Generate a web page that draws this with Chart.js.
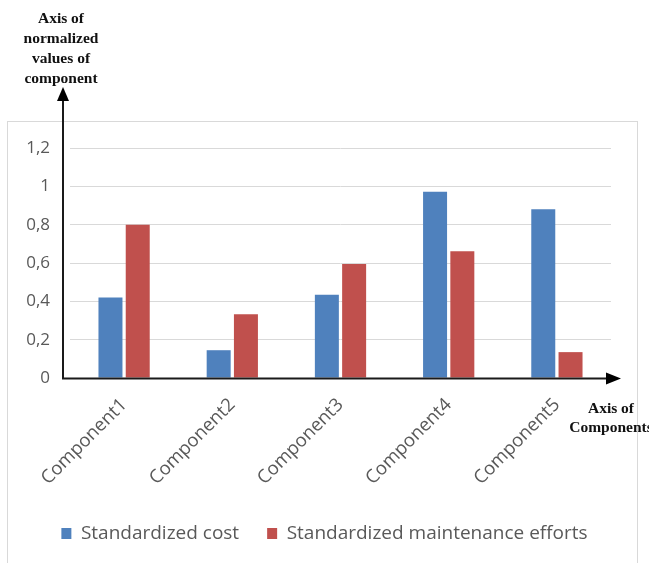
<!DOCTYPE html>
<html>
<head>
<meta charset="utf-8">
<script src="https://cdn.jsdelivr.net/npm/chart.js@4"></script>
<style>
  html, body { margin: 0; padding: 0; background: #fff; overflow: hidden; }
  #wrap { position: relative; width: 649px; height: 563px; overflow: hidden; }
  #frame { position: absolute; left: 7px; top: 121px; width: 629px; height: 460px; border: 1px solid #d9d9d9; }
  #myChart { position: absolute; left: 0; top: 0; }
  .cap { position: absolute; font-family: "Liberation Serif", serif; font-weight: bold; font-size: 15.5px; color: #111; text-align: center; white-space: nowrap; }
  #capY { left: 0; top: 8px; width: 122px; line-height: 20px; }
  #capX { left: 561px; top: 398px; width: 100px; line-height: 19px; }
</style>
</head>
<body>
<div id="wrap">
  <div id="frame"></div>
  <canvas id="myChart" width="649" height="563"></canvas>
  <div class="cap" id="capY">Axis of<br>normalized<br>values of<br>component</div>
  <div class="cap" id="capX">Axis of<br>Components</div>
</div>
<script>
// dados
const componentes = ['Component1', 'Component2', 'Component3', 'Component4', 'Component5'];
const custoPadrao = [0.42, 0.145, 0.435, 0.972, 0.881];
const esforcoManutencao = [0.80, 0.333, 0.595, 0.661, 0.135];
const yTicks = [0, 0.2, 0.4, 0.6, 0.8, 1, 1.2];

const cinza = '#595959';
const fonte = '"Open Sans", sans-serif';

// setas dos eixos
const setas = {
  id: 'setas',
  afterDraw(chart) {
    const { ctx, chartArea } = chart;
    const y0 = Math.round(chart.scales.y.getPixelForValue(0)) + 0.5;
    const xe = chartArea.left - 7;
    ctx.save();
    ctx.strokeStyle = '#1a1a1a';
    ctx.fillStyle = '#000';
    ctx.lineWidth = 2;
    ctx.beginPath();
    ctx.moveTo(xe, y0 + 1);
    ctx.lineTo(xe, 100);
    ctx.moveTo(xe, y0);
    ctx.lineTo(608, y0);
    ctx.stroke();
    // ponta vertical
    ctx.beginPath();
    ctx.moveTo(xe, 87);
    ctx.lineTo(xe - 6, 101);
    ctx.lineTo(xe + 6, 101);
    ctx.closePath();
    ctx.fill();
    // ponta horizontal
    ctx.beginPath();
    ctx.moveTo(621, y0);
    ctx.lineTo(606, y0 - 6);
    ctx.lineTo(606, y0 + 6);
    ctx.closePath();
    ctx.fill();
    ctx.restore();
  }
};

const ctx = document.getElementById('myChart').getContext('2d');
const chart = new Chart(ctx, {
  type: 'bar',
  data: {
    labels: componentes,
    datasets: [
      { label: 'Standardized cost', data: custoPadrao, backgroundColor: '#4f81bd' },
      { label: 'Standardized maintenance efforts', data: esforcoManutencao, backgroundColor: '#c0504d' }
    ]
  },
  options: {
    responsive: false,
    animation: false,
    layout: { padding: { left: 0, right: 0, top: 148, bottom: 10 } },
    datasets: { bar: { categoryPercentage: 0.504, barPercentage: 0.88 } },
    plugins: {
      tooltip: { enabled: false },
      legend: {
        position: 'bottom',
        labels: {
          color: cinza,
          font: { family: fonte, size: 19 },
          boxWidth: 10, boxHeight: 11,
          padding: 28
        }
      }
    },
    scales: {
      x: {
        grid: { display: false },
        border: { display: false },
        ticks: { color: cinza, font: { family: fonte, size: 18.5 }, minRotation: 45, maxRotation: 45, padding: 8 },
        afterFit: s => { s.height = 118; }
      },
      y: {
        min: 0, max: 1.2,
        afterBuildTicks: s => { s.ticks = yTicks.map(v => ({ value: v })); },
        afterFit: s => { s.width = 70; },
        grid: { color: '#d9d9d9', lineWidth: 1, drawTicks: false },
        border: { display: false },
        ticks: {
          color: cinza,
          font: { family: fonte, size: 17 },
          padding: 20,
          callback: v => String(Number(v.toFixed(1))).replace('.', ',')
        }
      },
      // eixo vazio so para reservar a margem da direita
      margem: {
        position: 'right',
        min: 0, max: 1.2,
        afterFit: s => { s.width = 38; },
        grid: { display: false },
        border: { display: false },
        ticks: { display: false }
      }
    }
  },
  plugins: [setas]
});
</script>
</body>
</html>
